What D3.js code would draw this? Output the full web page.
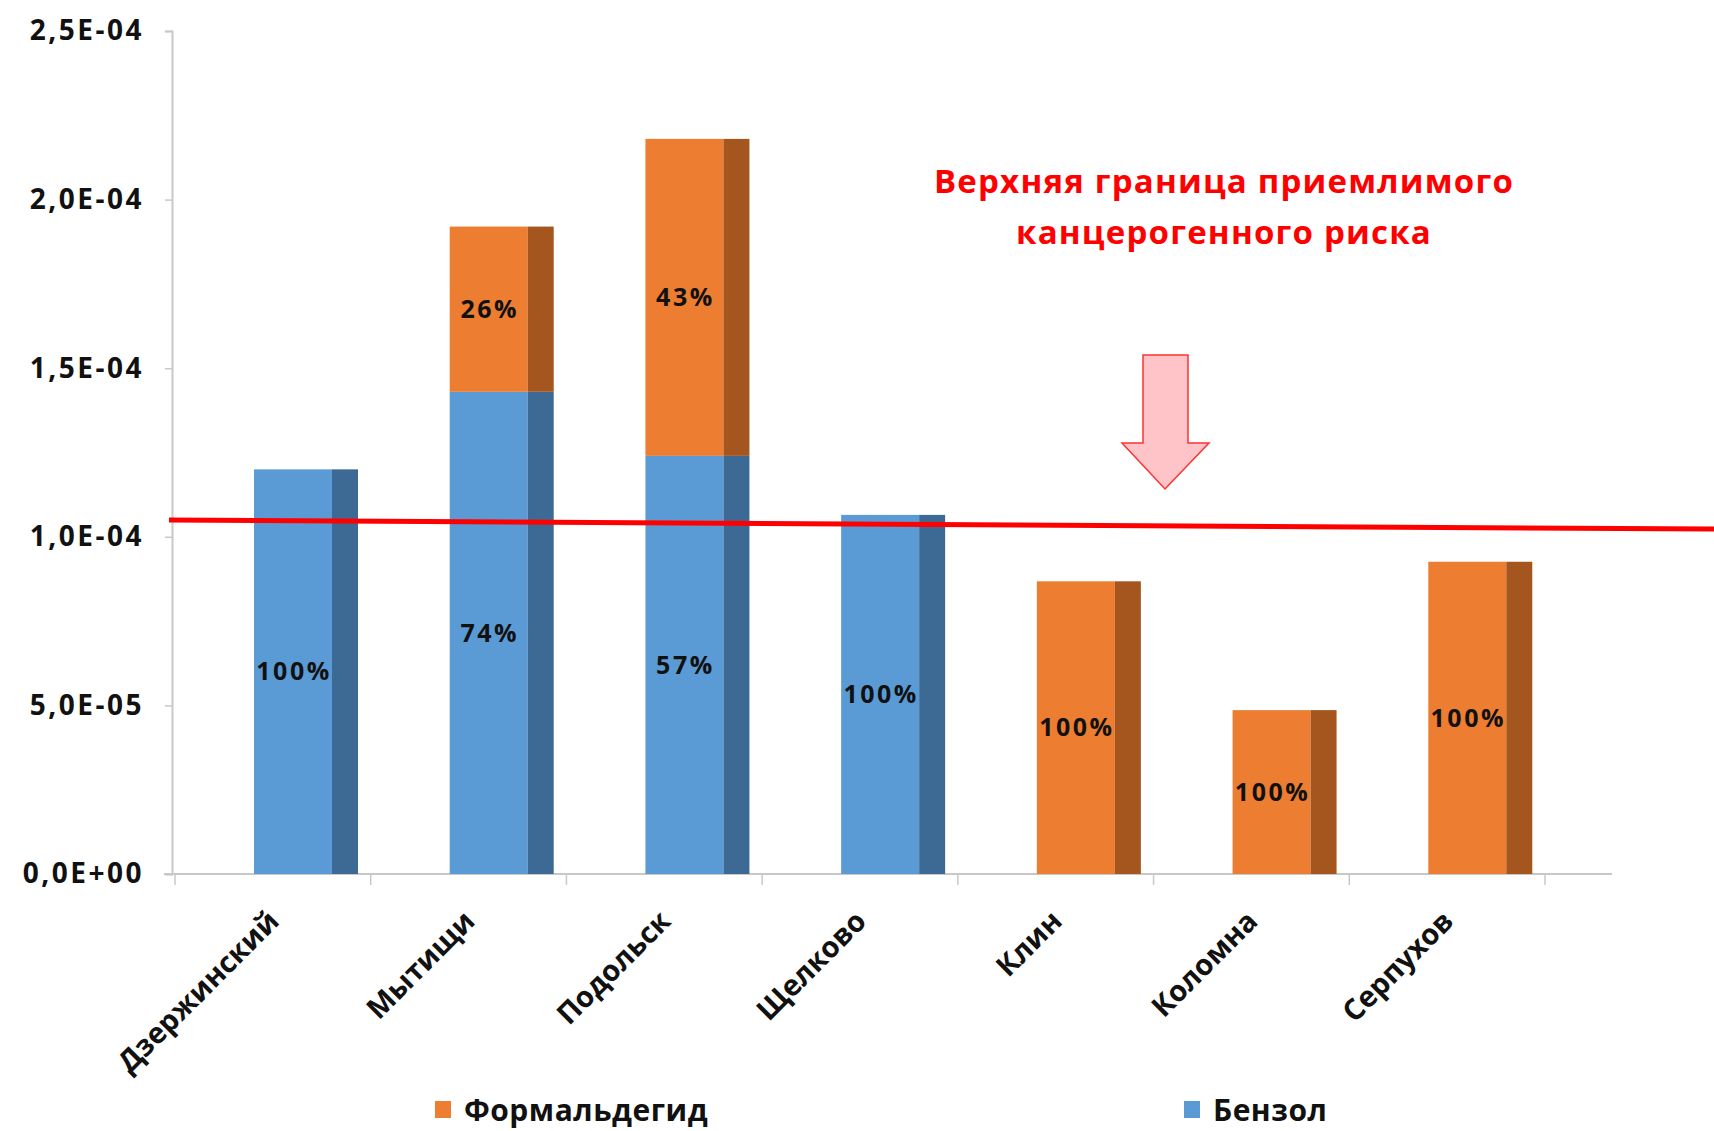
<!DOCTYPE html>
<html>
<head>
<meta charset="utf-8">
<script src="https://cdn.jsdelivr.net/npm/d3@7"></script>
<style>
  html, body { margin: 0; padding: 0; background: #fff; }
  svg { display: block; font-family: "Open Sans", sans-serif; }
</style>
</head>
<body>
<script>

var w = 1714;
var h = 1131;

// data
var cities = ["Дзержинский", "Мытищи", "Подольск", "Щелково", "Клин", "Коломна", "Серпухов"];
var benzene = [1.20e-4, 1.43e-4, 1.24e-4, 1.065e-4, 0, 0, 0];
var formaldehyde = [0, 0.49e-4, 0.94e-4, 0, 0.868e-4, 0.486e-4, 0.926e-4];
var benzeneLabels = ["100%", "74%", "57%", "100%", "", "", ""];
var formaldehydeLabels = ["", "26%", "43%", "", "100%", "100%", "100%"];
var yTicks = [0, 5e-5, 1e-4, 1.5e-4, 2e-4, 2.5e-4];
var yTickLabels = ["0,0E+00", "5,0E-05", "1,0E-04", "1,5E-04", "2,0E-04", "2,5E-04"];
var riskLine = [1.05e-4, 1.023e-4];   // hand drawn, a bit tilted
var seriesNames = ["Формальдегид", "Бензол"];

var colors = {
  benzene: "#5b9bd5", benzeneSide: "#3d6a94",
  form: "#ed7d31", formSide: "#a5561f"
};

var svg = d3.select("body").append("svg")
  .attr("width", w)
  .attr("height", h);

var y = d3.scaleLinear().domain([0, 2.5e-4]).range([874, 31]);
var x = d3.scaleBand().domain(cities).range([175, 1545]);

var frontW = 78, sideW = 26, barOff = 79;

// y axis
var yAxis = d3.axisLeft(y)
  .tickValues(yTicks)
  .tickFormat(function(d, i){ return yTickLabels[i]; })
  .tickSize(7)
  .tickPadding(21);

var gy = svg.append("g")
  .attr("transform", "translate(172,0)")
  .call(yAxis);
gy.select(".domain").attr("stroke", "#c8c8c8").attr("stroke-width", 2);
gy.selectAll(".tick line").attr("stroke", "#c8c8c8").attr("stroke-width", 1.5);
gy.selectAll(".tick text")
  .attr("fill", "#111")
  .attr("font-size", "28px")
  .attr("font-weight", "bold")
  .attr("letter-spacing", "2.5px")
  .attr("font-family", "Open Sans, sans-serif");

// x axis line and ticks at category boundaries
svg.append("line")
  .attr("x1", 164).attr("x2", 1612)
  .attr("y1", y(0)).attr("y2", y(0))
  .attr("stroke", "#c8c8c8").attr("stroke-width", 2);

var bounds = cities.map(function(c){ return x(c); }).concat([x.range()[1]]);
svg.selectAll("line.xtick")
  .data(bounds)
  .enter()
  .append("line")
  .attr("class", "xtick")
  .attr("x1", function(d){ return d; })
  .attr("x2", function(d){ return d; })
  .attr("y1", y(0))
  .attr("y2", y(0) + 11)
  .attr("stroke", "#c8c8c8")
  .attr("stroke-width", 1.5);

// stacked bars: front face + dark side
var rows = cities.map(function(c, i){
  return { city: c, b: benzene[i], f: formaldehyde[i], bl: benzeneLabels[i], fl: formaldehydeLabels[i] };
});

var segs = [];
rows.forEach(function(r){
  if (r.b > 0) segs.push({ city: r.city, y0: 0, y1: r.b, front: colors.benzene, side: colors.benzeneSide, label: r.bl });
  if (r.f > 0) segs.push({ city: r.city, y0: r.b, y1: r.b + r.f, front: colors.form, side: colors.formSide, label: r.fl });
});

var bars = svg.selectAll("g.seg")
  .data(segs)
  .enter()
  .append("g")
  .attr("class", "seg");

bars.append("rect")
  .attr("x", function(d){ return x(d.city) + barOff; })
  .attr("y", function(d){ return y(d.y1); })
  .attr("width", frontW)
  .attr("height", function(d){ return y(d.y0) - y(d.y1); })
  .attr("fill", function(d){ return d.front; });

bars.append("rect")
  .attr("x", function(d){ return x(d.city) + barOff + frontW; })
  .attr("y", function(d){ return y(d.y1); })
  .attr("width", sideW)
  .attr("height", function(d){ return y(d.y0) - y(d.y1); })
  .attr("fill", function(d){ return d.side; });

bars.append("text")
  .text(function(d){ return d.label; })
  .attr("x", function(d){ return x(d.city) + barOff + frontW / 2 + 1; })
  .attr("y", function(d){ return (y(d.y0) + y(d.y1)) / 2; })
  .attr("dy", "0.35em")
  .attr("text-anchor", "middle")
  .attr("font-size", "25px")
  .attr("font-weight", "bold")
  .attr("letter-spacing", "2.5px")
  .attr("fill", "#111");

// category labels
svg.selectAll("text.cat")
  .data(cities)
  .enter()
  .append("text")
  .attr("class", "cat")
  .text(function(d){ return d; })
  .attr("transform", function(d){
    var cx = x(d) + x.bandwidth() / 2 + 8;
    return "translate(" + cx + ",923) rotate(-45)";
  })
  .attr("text-anchor", "end")
  .attr("font-size", "29px")
  .attr("font-weight", "bold")
  .attr("fill", "#111");

// upper limit of acceptable cancer risk
svg.append("line")
  .attr("x1", 169).attr("x2", 1714)
  .attr("y1", y(riskLine[0])).attr("y2", y(riskLine[1]))
  .attr("stroke", "#ff0000")
  .attr("stroke-width", 5);

svg.append("path")
  .attr("d", "M1143,355 L1188,355 L1188,443 L1209,443 L1165,489 L1122,443 L1143,443 Z")
  .attr("fill", "#ffc4c8")
  .attr("stroke", "#ff3030")
  .attr("stroke-width", 1.5);

svg.selectAll("text.note")
  .data(["Верхняя граница приемлимого", "канцерогенного риска"])
  .enter()
  .append("text")
  .attr("class", "note")
  .text(function(d){ return d; })
  .attr("x", 1224)
  .attr("y", function(d, i){ return 193 + i * 51; })
  .attr("text-anchor", "middle")
  .attr("font-size", "33px")
  .attr("font-weight", "bold")
  .attr("letter-spacing", "1.2px")
  .attr("fill", "#ff0000");

// legend
var legend = svg.selectAll("g.legend")
  .data(seriesNames)
  .enter()
  .append("g")
  .attr("class", "legend")
  .attr("transform", function(d, i){ return "translate(" + (i == 0 ? 435 : 1184) + ",1101)"; });

legend.append("rect")
  .attr("width", 16).attr("height", 17)
  .attr("fill", function(d, i){ return i == 0 ? colors.form : colors.benzene; });

legend.append("text")
  .text(function(d){ return d; })
  .attr("x", 29)
  .attr("y", 20)
  .attr("font-size", "30px")
  .attr("font-weight", "bold")
  .attr("letter-spacing", "0.5px")
  .attr("fill", "#111");

</script>
</body>
</html>
